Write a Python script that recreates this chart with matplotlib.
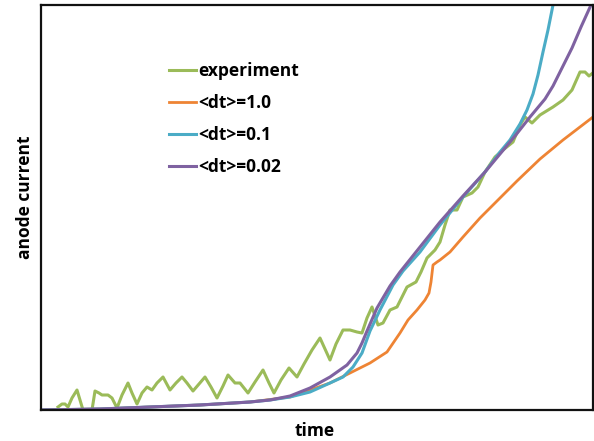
import matplotlib
matplotlib.use("Agg")
import matplotlib.pyplot as plt

# values (time / anode current, arbitrary units)
exp_t = [17, 21, 24, 27, 31, 36, 39, 42, 51, 54, 58, 61, 67, 71, 76, 81, 87, 91, 96,
         101, 106, 111, 116, 122, 129, 135, 141, 146, 152, 158, 164, 170, 176, 182,
         187, 194, 199, 207, 214, 222, 228, 233, 240, 248, 256, 263, 271, 279,
         289, 295, 302, 309, 316, 321, 326, 331, 337, 342, 349, 356, 361, 366,
         375, 380, 386, 394, 399, 404, 409, 416, 422, 431, 437, 444, 454, 462, 472,
         479, 484, 491, 499, 512, 522, 531, 539, 544, 548, 553]
exp_i = [3, 6, 6, 3, 12, 20, 10, 0, 0, 19, 17, 15, 15, 12, 2, 15, 27, 17, 6,
         17, 23, 20, 27, 33, 20, 27, 33, 27, 19, 26, 33, 23, 12, 24,
         35, 27, 27, 17, 28, 40, 27, 17, 30, 42, 33, 46, 60, 72,
         50, 66, 80, 80, 78, 77, 92, 103, 85, 87, 100, 103, 113, 123,
         128, 138, 152, 160, 168, 185, 200, 200, 213, 217, 223, 238, 253, 260, 268,
         285, 293, 287, 295, 303, 310, 320, 338, 338, 334, 338]

dt1_t = [0, 59, 109, 159, 209, 249, 269, 289, 309, 329, 346, 359, 367, 376,
         384, 388, 390, 392, 396, 399, 409, 422, 439, 456, 476, 499, 522, 552]
dt1_i = [0, 1, 3, 5, 8, 13, 20, 27, 37, 47, 58, 77, 90, 100,
         110, 117, 128, 145, 148, 150, 158, 173, 192, 209, 229, 251, 270, 293]

dt01_t = [0, 59, 109, 159, 209, 229, 249, 269, 289, 302, 312, 321, 329, 339, 352,
          362, 379, 399, 422, 444, 459, 469, 479, 486, 492, 497, 502, 507, 512, 514]
dt01_i = [0, 1, 3, 5, 8, 10, 13, 18, 27, 33, 43, 57, 79, 100, 125,
          139, 158, 185, 213, 238, 258, 270, 286, 300, 316, 335, 358, 380, 405, 415]

dt002_t = [0, 59, 109, 159, 209, 229, 239, 249, 269, 289, 306, 316, 321, 326, 336,
           349, 359, 379, 399, 422, 444, 459, 474, 489, 504, 512, 521, 531, 540,
           550, 552]
dt002_i = [0, 1, 3, 5, 8, 10, 12, 14, 22, 33, 45, 57, 67, 79, 102,
           124, 138, 163, 188, 214, 238, 256, 274, 293, 311, 324, 342, 362, 383,
           405, 410]

labels = ["experiment", "<dt>=1.0", "<dt>=0.1", "<dt>=0.02"]
colors = ["#9BBB59", "#EE8434", "#4BACC6", "#7F62A1"]

fig = plt.figure(figsize=(5.94, 4.41), dpi=100)
ax = fig.add_axes([41 / 594, 31 / 441, 552 / 594, 405 / 441])

ax.plot(exp_t, exp_i, color=colors[0], lw=2.2, label=labels[0], solid_joinstyle="round")
ax.plot(dt1_t, dt1_i, color=colors[1], lw=2, label=labels[1], solid_joinstyle="round")
ax.plot(dt01_t, dt01_i, color=colors[2], lw=2.2, label=labels[2], solid_joinstyle="round")
ax.plot(dt002_t, dt002_i, color=colors[3], lw=2.2, label=labels[3], solid_joinstyle="round")

ax.set_xlim(0, 552)
ax.set_ylim(0, 405)
ax.set_xticks([])
ax.set_yticks([])
for s in ax.spines.values():
    s.set_linewidth(1.6)
    s.set_color("#111111")

lab_font = dict(family="Open Sans", weight="bold", size=12.5)
ax.set_xlabel("time", fontdict=lab_font)
ax.set_ylabel("anode current", fontdict=lab_font)
ax.xaxis.set_label_coords(0.496, -0.03)
ax.yaxis.set_label_coords(-0.012, 0.525)

ax.legend(loc="upper left", bbox_to_anchor=(0.232, 0.86), frameon=False,
          prop=dict(family="Open Sans", weight="bold", size=12.5),
          handlelength=1.55, handletextpad=0.15, labelspacing=0.81,
          borderpad=0, borderaxespad=0)

fig.savefig("out.png", dpi=100)
